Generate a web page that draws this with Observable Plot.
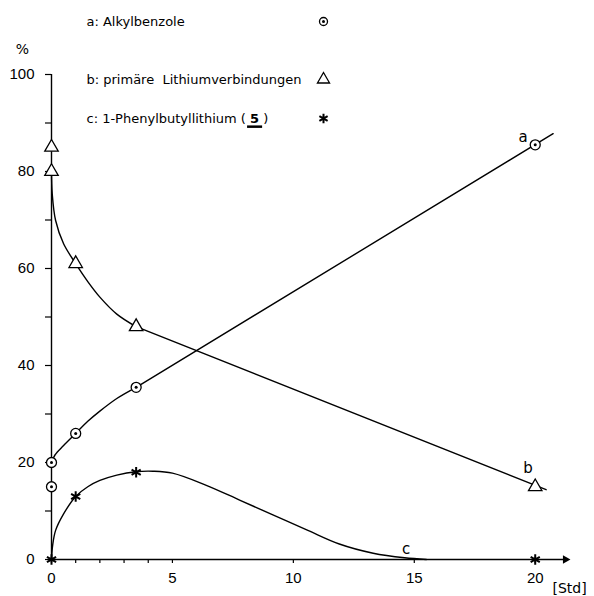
<!DOCTYPE html>
<html>
<head>
<meta charset="utf-8">
<script src="https://cdn.jsdelivr.net/npm/d3@7"></script>
<script src="https://cdn.jsdelivr.net/npm/@observablehq/plot@0.6"></script>
<style>
  html, body { margin: 0; padding: 0; background: #fff; }
</style>
</head>
<body>
<script>
// ---------- data ----------
// measured points (x in Std, y in %)
const pointsA = [[0, 15], [0, 20], [1, 26], [3.5, 35.5], [20, 85.5]];           // Alkylbenzole (circles)
const pointsB = [[0, 85], [0, 80], [1, 61], [3.5, 48], [20, 15]];              // primäre Li-Verbindungen (triangles)
const pointsC = [[0, 0], [1, 13], [3.5, 18], [20, 0]];                         // 1-Phenylbutyllithium (stars)

// hand-drawn curves
const curveA = [[0, 20], [0.15, 21.6], [0.5, 23.5], [1, 26], [1.5, 28.5], [2, 30.6], [2.7, 33.2], [3.5, 35.5]];
const lineA = [[3.5, 35.5], [20.74, 87.8]];
const curveB = [[0, 80], [0.03, 75.4], [0.17, 69.9], [0.5, 65.1], [1, 61], [1.5, 57.3], [2, 54.1], [2.7, 50.6], [3.5, 48]];
const lineB = [[3.5, 48], [20.45, 14.4]];
const curveC = [[0, 0], [0.05, 3], [0.17, 6], [0.5, 9.4], [1, 13], [1.5, 15], [2, 16.3], [2.7, 17.4], [3.5, 18.1],
                [4.2, 18.2], [5, 17.8], [6.4, 15.3], [7.8, 12.2], [9.2, 9.1], [10.6, 6.0], [11.9, 3.2], [13.3, 1.3],
                [14.6, 0.35], [15.5, 0]];

const curveLabels = [{t: "a", x: 19.5, y: 87}, {t: "b", x: 19.7, y: 18.8}, {t: "c", x: 14.66, y: 2.1}];

const legendLabels = ["a: Alkylbenzole", "b: primäre  Lithiumverbindungen", "c: 1-Phenylbutyllithium ( 5 )"];

const xTicks = [0, 1, 2, 3, 4, 5, 10, 15, 20];
const xTickLabels = [0, 5, 10, 15, 20];
const yTicks = [0, 10, 20, 30, 40, 50, 60, 70, 80, 90, 100];
const yTickLabels = [0, 20, 40, 60, 80, 100];
const xAxisEnd = 21.5;
const yAxisEnd = 100;
const yUnit = "%";
const xUnit = "[Std]";

// ---------- layout ----------
const legendRowDy = [-53, 5, 44];
const legendTextDx = 35;
const legendSymDx = 272;
const legendFont = "DejaVu Sans";
const numFont = "Liberation Sans";

const P = (arr) => arr.map(([x, y]) => ({x, y}));
const lineOpts = {x: "x", y: "y", stroke: "black", strokeWidth: 1.4};

const legendMarks = [];
legendLabels.forEach((t, i) => {
  legendMarks.push(Plot.text([t], {frameAnchor: "top-left", dx: legendTextDx, dy: legendRowDy[i],
    text: d => d, textAnchor: "start", lineAnchor: "middle", fontSize: 13, fontFamily: legendFont, fill: "black"}));
});
legendMarks.push(Plot.dot([0], {frameAnchor: "top-left", dx: legendSymDx, dy: legendRowDy[0], r: 4, stroke: "black", strokeWidth: 1.3}));
legendMarks.push(Plot.dot([0], {frameAnchor: "top-left", dx: legendSymDx, dy: legendRowDy[0], r: 1.5, fill: "black"}));
legendMarks.push(Plot.dot([0], {frameAnchor: "top-left", dx: legendSymDx, dy: legendRowDy[1], r: 4.5, symbol: "triangle", stroke: "black", strokeWidth: 1.3}));
legendMarks.push(Plot.dot([0], {frameAnchor: "top-left", dx: legendSymDx, dy: legendRowDy[2], r: 4.5, symbol: "asterisk", stroke: "black", strokeWidth: 2}));

const chart = Plot.plot({
  width: 594,
  height: 596,
  marginLeft: 51,
  marginRight: 23,
  marginTop: 74,
  marginBottom: 37,
  style: {fontFamily: numFont, fontSize: "15px", color: "black", background: "white"},
  x: {domain: [0, xAxisEnd], axis: null},
  y: {domain: [0, 100], axis: null},
  marks: [
    // y axis
    Plot.ruleX([0], {y1: 0, y2: yAxisEnd, stroke: "black", strokeWidth: 1.4}),
    Plot.axisY({ticks: yTicks, label: null, tickSize: 6, tickPadding: 11,
      tickFormat: d => yTickLabels.includes(d) ? String(d) : "",
      fontSize: 15, fontFamily: numFont, stroke: "black", strokeWidth: 1.2}),
    // x axis with arrow
    Plot.ruleY([0], {x1: 0, x2: xAxisEnd - 0.3, stroke: "black", strokeWidth: 1.4}),
    Plot.dot([{x: xAxisEnd - 0.25, y: 0}], {x: "x", y: "y", symbol: "triangle", rotate: 90, r: 3.2, fill: "black"}),
    Plot.axisX({ticks: xTicks, label: null, tickSize: 4, tickPadding: 9,
      tickFormat: d => xTickLabels.includes(d) ? String(d) : "",
      fontSize: 15, fontFamily: numFont, stroke: "black", strokeWidth: 1.2}),
    Plot.text([yUnit], {frameAnchor: "top-left", dx: -29, dy: -25, text: d => d, textAnchor: "middle",
      lineAnchor: "middle", fontSize: 14, fontFamily: legendFont}),
    Plot.text([xUnit], {frameAnchor: "bottom-right", dx: -19, dy: 29, text: d => d, textAnchor: "start",
      lineAnchor: "middle", fontSize: 14, fontFamily: legendFont}),
    // curves
    Plot.line(P(curveA), {...lineOpts, curve: "catmull-rom"}),
    Plot.line(P(lineA), lineOpts),
    Plot.line(P(curveB), {...lineOpts, curve: "catmull-rom"}),
    Plot.line(P(lineB), lineOpts),
    Plot.line(P(curveC), {...lineOpts, curve: "catmull-rom"}),
    // markers
    Plot.dot(P(pointsA), {x: "x", y: "y", r: 5, stroke: "black", strokeWidth: 1.3, fill: "white"}),
    Plot.dot(P(pointsA), {x: "x", y: "y", r: 1.5, fill: "black"}),
    Plot.dot(P(pointsB), {x: "x", y: "y", r: 5, symbol: "triangle", stroke: "black", strokeWidth: 1.3, fill: "white"}),
    Plot.dot(P(pointsC), {x: "x", y: "y", r: 5, symbol: "asterisk", stroke: "black", strokeWidth: 2}),
    // curve letters
    Plot.text(curveLabels, {x: "x", y: "y", text: "t", fontSize: 15, fontFamily: legendFont}),
    ...legendMarks
  ]
});
document.body.append(chart);

// underline the compound number "5" in the legend
d3.select(chart).selectAll("text").each(function () {
  if (this.textContent === legendLabels[2]) {
    const el = d3.select(this);
    el.text("");
    el.append("tspan").text("c: 1-Phenylbutyllithium ( ");
    const five = el.append("tspan").attr("font-weight", "bold").text("5");
    el.append("tspan").text(" )");
    const bb = five.node().getBBox();
    d3.select(this.parentNode).append("line")
      .attr("x1", bb.x - 3).attr("x2", bb.x + bb.width + 3)
      .attr("y1", bb.y + bb.height + 1).attr("y2", bb.y + bb.height + 1)
      .attr("stroke", "black").attr("stroke-width", 2.5)
      .attr("transform", this.getAttribute("transform"));
  }
});
</script>
</body>
</html>
